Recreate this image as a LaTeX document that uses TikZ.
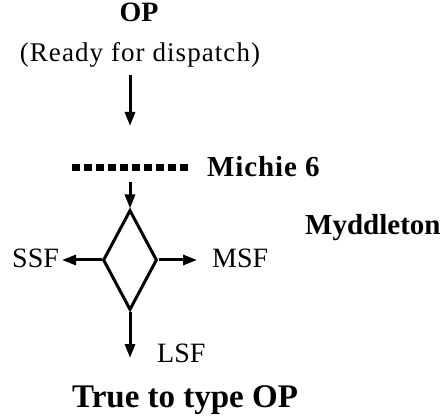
\documentclass[tikz,border=0pt]{standalone}
\usepackage{fontspec}
\setmainfont{Liberation Serif}
\usetikzlibrary{arrows.meta,shapes.geometric}
\tikzset{
  txt/.style={inner sep=0pt, font=\fontsize{28}{30}\selectfont},
  btxt/.style={inner sep=0pt, font=\fontsize{29}{32}\selectfont\bfseries},
  arr/.style={line width=3pt, -{Triangle[length=14pt,width=10pt]}},
  bar/.style={line width=7pt, dash pattern=on 8pt off 4pt},
  dia/.style={draw, diamond, line width=3pt, inner sep=0pt, minimum width=54pt, minimum height=100pt},
}
\begin{document}
\begin{tikzpicture}[x=1pt,y=-1pt]
\useasboundingbox (0,0) rectangle (445,417);
% texts
\node[btxt, font=\fontsize{28}{30}\selectfont\bfseries, anchor=base] (op) at (139,22) {OP};
\node[txt, font=\fontsize{27}{30}\selectfont, anchor=base] (ready) at (140,62) {\addfontfeature{LetterSpace=4}(Ready for dispatch)};
\node[btxt, anchor=base west] (michie) at (207,177) {\addfontfeature{LetterSpace=3}Michie 6};
\node[btxt, anchor=base west] (myd) at (305,235) {Myddleton};
\node[txt, anchor=base west] (ssf) at (12,268) {SSF};
\node[txt, anchor=base west] (msf) at (212,268) {MSF};
\node[txt, anchor=base west] (lsf) at (157,362) {LSF};
\node[btxt, font=\fontsize{33}{36}\selectfont\bfseries, anchor=base west] (true) at (72,407) {True to type OP};
% diamond
\node[dia] (d) at (130,260) {};
% dashed bar
\coordinate (bl) at (72,168);
\coordinate (br) at (190,168);
\draw[bar] (bl) -- (br);
% arrow end points
\coordinate (a1s) at (130,75);
\coordinate (a1e) at (130,126);
\coordinate (a2s) at (130,182);
\coordinate (a3e) at (62,260);
\coordinate (a4e) at (197,260);
\coordinate (a5e) at (130,358);
\draw[arr] (a1s) -- (a1e);
\draw[arr] (a2s) -- (d.north);
\draw[arr] (d.west) -- (a3e);
\draw[arr] (d.east) -- (a4e);
\draw[arr] (d.south) -- (a5e);
\end{tikzpicture}
\end{document}
